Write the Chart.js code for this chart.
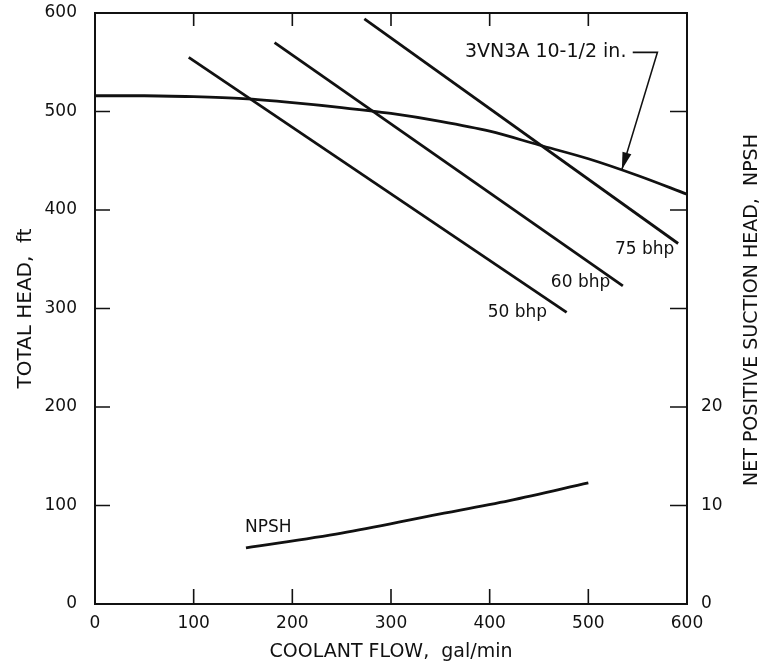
<!DOCTYPE html>
<html>
<head>
<meta charset="utf-8">
<script src="https://cdn.jsdelivr.net/npm/chart.js@4.4.1/dist/chart.umd.min.js"></script>
<style>
  body { margin: 0; background: #fff; }
  #wrap { width: 775px; height: 668px; }
</style>
</head>
<body>
<div id="wrap"><canvas id="pumpChart"></canvas></div>
<script>

// pump head curve (3VN3A 10-1/2 in.)
const pumpFlow = [0, 50, 100, 150, 200, 250, 300, 350, 400, 450, 500, 550, 600];
const pumpHead = [516, 516, 515, 513, 509, 504, 498, 490, 480, 466, 452, 435, 416];

// constant power lines
const bhp50Flow = [95, 478];
const bhp50Head = [555, 296];
const bhp60Flow = [182, 535];
const bhp60Head = [570, 323];
const bhp75Flow = [273, 591];
const bhp75Head = [594, 366];

// NPSH curve (right axis)
const npshFlow = [153, 250, 342, 420, 500];
const npshHead = [5.7, 7.2, 9.0, 10.5, 12.3];

const xTicks = [0, 100, 200, 300, 400, 500, 600];
const yTicks = [0, 100, 200, 300, 400, 500, 600];
const npshTicks = [0, 10, 20];

const FONT = "'DejaVu Sans', sans-serif";
const INK = '#111';

function pts(xs, ys) {
    return xs.map((x, i) => ({ x: x, y: ys[i] }));
}

function line(xs, ys, axis, smooth) {
    return {
        data: pts(xs, ys),
        yAxisID: axis,
        showLine: true,
        borderColor: INK,
        borderWidth: 2.8,
        pointRadius: 0,
        fill: false,
        cubicInterpolationMode: smooth ? 'monotone' : 'default'
    };
}

// text labels placed at data coordinates
const notes = [
    { text: '3VN3A 10-1/2 in.', x: 375, y: 560, size: 19 },
    { text: '75 bhp', x: 527, y: 360, size: 17 },
    { text: '60 bhp', x: 462, y: 326, size: 17 },
    { text: '50 bhp', x: 398, y: 296, size: 17 },
    { text: 'NPSH', x: 152, y: 78, size: 17 }
];

// leader from label to the pump curve
const leaderFlow = [545, 570, 534];
const leaderHead = [560, 560, 441];

const decor = {
    id: 'decor',
    afterDraw(chart) {
        const ctx = chart.ctx;
        const xs = chart.scales.x, ys = chart.scales.y;
        const a = chart.chartArea;
        const tl = 15;

        ctx.save();
        ctx.strokeStyle = INK;
        ctx.lineWidth = 2;
        ctx.strokeRect(a.left, a.top, a.right - a.left, a.bottom - a.top);

        // inside ticks on all four sides
        ctx.lineWidth = 1.6;
        ctx.beginPath();
        xTicks.slice(1, -1).forEach(v => {
            const px = xs.getPixelForValue(v);
            ctx.moveTo(px, a.bottom); ctx.lineTo(px, a.bottom - tl);
            ctx.moveTo(px, a.top); ctx.lineTo(px, a.top + tl - 2);
        });
        yTicks.slice(1, -1).forEach(v => {
            const py = ys.getPixelForValue(v);
            ctx.moveTo(a.left, py); ctx.lineTo(a.left + tl, py);
            ctx.moveTo(a.right, py); ctx.lineTo(a.right - tl - 2, py);
        });
        ctx.stroke();

        // labels
        ctx.fillStyle = INK;
        ctx.textAlign = 'left';
        ctx.textBaseline = 'middle';
        notes.forEach(n => {
            ctx.font = n.size + 'px ' + FONT;
            ctx.fillText(n.text, xs.getPixelForValue(n.x), ys.getPixelForValue(n.y));
        });

        // leader line + arrow head
        const lp = leaderFlow.map((v, i) => [xs.getPixelForValue(v), ys.getPixelForValue(leaderHead[i])]);
        ctx.lineWidth = 1.6;
        ctx.beginPath();
        ctx.moveTo(lp[0][0], lp[0][1]);
        ctx.lineTo(lp[1][0], lp[1][1]);
        ctx.lineTo(lp[2][0], lp[2][1]);
        ctx.stroke();
        const ang = Math.atan2(lp[2][1] - lp[1][1], lp[2][0] - lp[1][0]);
        const hl = 18, hw = 0.26;
        ctx.beginPath();
        ctx.moveTo(lp[2][0], lp[2][1]);
        ctx.lineTo(lp[2][0] - hl * Math.cos(ang - hw), lp[2][1] - hl * Math.sin(ang - hw));
        ctx.lineTo(lp[2][0] - hl * Math.cos(ang + hw), lp[2][1] - hl * Math.sin(ang + hw));
        ctx.closePath();
        ctx.fill();

        // right axis title (reads bottom to top)
        ctx.font = '19px ' + FONT;
        ctx.textAlign = 'center';
        ctx.translate(752, 310);
        ctx.rotate(-Math.PI / 2);
        ctx.fillText('NET POSITIVE SUCTION HEAD,  NPSH', 0, 0);
        ctx.restore();
    }
};

new Chart(document.getElementById('pumpChart'), {
    type: 'scatter',
    data: {
        datasets: [
            line(pumpFlow, pumpHead, 'y', true),
            line(bhp50Flow, bhp50Head, 'y', false),
            line(bhp60Flow, bhp60Head, 'y', false),
            line(bhp75Flow, bhp75Head, 'y', false),
            line(npshFlow, npshHead, 'y2', true)
        ]
    },
    options: {
        responsive: true,
        maintainAspectRatio: false,
        animation: false,
        layout: { padding: { top: 13, left: 0, right: 0, bottom: 0 } },
        plugins: { legend: { display: false }, tooltip: { enabled: false } },
        scales: {
            x: {
                type: 'linear', min: 0, max: 600,
                afterBuildTicks: s => { s.ticks = xTicks.map(v => ({ value: v })); },
                afterFit: s => { s.height = 64; s.paddingLeft = 0; s.paddingRight = 0; },
                grid: { display: false },
                border: { display: false },
                ticks: { color: INK, font: { family: FONT, size: 17 }, padding: 1, maxRotation: 0 },
                title: { display: true, text: 'COOLANT FLOW,  gal/min', color: INK,
                         font: { family: FONT, size: 19 }, padding: { top: 0, bottom: 5 } }
            },
            y: {
                position: 'left', min: 0, max: 600,
                afterBuildTicks: s => { s.ticks = yTicks.map(v => ({ value: v })); },
                afterFit: s => { s.width = 95; s.paddingTop = 0; s.paddingBottom = 0; },
                grid: { display: false },
                border: { display: false },
                ticks: { color: INK, font: { family: FONT, size: 17 }, padding: 10 },
                title: { display: true, text: 'TOTAL HEAD,  ft', color: INK,
                         font: { family: FONT, size: 20 }, padding: { top: 14, bottom: 0 } }
            },
            y2: {
                position: 'right', min: 0, max: 60,
                afterBuildTicks: s => { s.ticks = npshTicks.map(v => ({ value: v })); },
                afterFit: s => { s.width = 88; s.paddingTop = 0; s.paddingBottom = 0; },
                grid: { display: false },
                border: { display: false },
                ticks: { color: INK, font: { family: FONT, size: 17 }, padding: 6 }
            }
        }
    },
    plugins: [decor]
});
</script>
</body>
</html>
